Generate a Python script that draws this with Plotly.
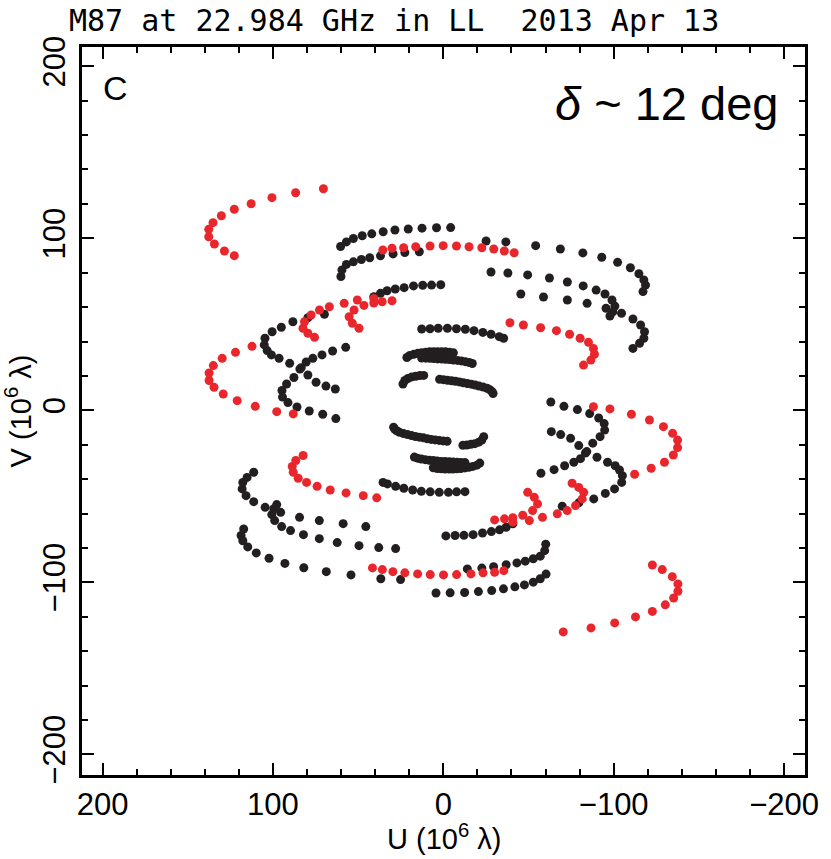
import plotly.graph_objects as go

# u, v in units of 10^6 wavelengths.
# Each track is listed once; it is drawn together with its conjugate (-u, -v).

# red tracks
red1_u = [122.7, 128.5, 134.4, 137.7, 137.7, 135.2, 130.3, 122.7, 112.8, 100.6, 86.7, 70.4]
red1_v = [89.9, 92.6, 96.7, 100.9, 105.2, 109.1, 113.1, 116.9, 120.1, 123.6, 126.5, 128.8]
red2_u = [88.1, 97.8, 110.4, 121.0, 129.2, 134.6, 137.5, 137.5, 135.0, 129.8, 122.0, 112.3]
red2_v = [-2.1, -0.8, 2.3, 5.6, 9.5, 13.4, 17.3, 21.7, 26.0, 30.2, 33.7, 37.2]
red3_u = [35.5, 30.1, 23.3, 16.2, 7.8, 0.1, -7.7, -15.1, -22.6, -29.6, -35.8, -41.6]
red3_v = [93.2, 94.2, 94.5, 95.1, 95.5, 95.7, 95.5, 95.1, 94.5, 93.8, 92.6, 91.6]
red4_u = [-39.1, -47.0, -57.1, -66.4, -74.1, -80.3, -85.2, -88.1, -88.7, -86.6, -82.3]
red4_v = [50.9, 49.6, 48.0, 46.3, 44.2, 41.9, 39.5, 36.0, 32.6, 29.2, 26.3]
red5_u = [75.6, 79.5, 82.4, 81.5, 77.6, 72.7, 66.9, 58.2, 50.5, 40.8]
red5_v = [42.4, 44.8, 47.7, 51.5, 55.4, 58.3, 60.2, 62.2, 64.1, 65.0]
red6_u = [49.5, 53.4, 55.3, 52.4, 46.6, 40.8, 35.9, 30.1]
red6_v = [47.7, 50.6, 54.4, 58.3, 61.0, 62.4, 63.1, 63.7]

# black tracks
blk1_u = [60.3, 56.9, 52.8, 47.6, 42.0, 35.3, 28.4, 20.6, 12.5, 4.0, -4.3]
blk1_v = [95.2, 97.9, 99.9, 101.5, 102.6, 103.8, 104.8, 105.4, 105.9, 106.1, 106.2]
blk2_u = [60.1, 59.5, 56.9, 52.8, 48.1, 43.2, 36.9, 29.5, 22.6, 14.1]
blk2_v = [77.8, 81.6, 84.8, 86.3, 87.7, 88.7, 89.8, 90.9, 91.7, 92.2]
blk3_u = [40.8, 36.9, 33.0, 28.2, 23.0, 17.5, 12.1, 6.9, 1.5]
blk3_v = [66.0, 68.0, 69.5, 70.5, 71.3, 72.3, 72.7, 72.8, 73.0]
blk4_u = [12.7, 7.8, 3.0, -2.4, -7.7, -12.9, -18.0, -23.2, -28.0, -32.8, -35.4]
blk4_v = [47.3, 47.4, 47.7, 47.7, 47.4, 47.1, 46.3, 45.3, 44.2, 42.8, 41.9]
blk5_u = [-25.1, -36.7, -54.2, -68.7, -81.9, -93.0, -102.3, -109.8, -114.8, -117.7, -118.7, -117.2]
blk5_v = [98.4, 97.9, 95.7, 93.8, 91.5, 89.0, 86.0, 82.9, 79.4, 75.8, 72.8, 69.0]
blk6_u = [-28.0, -37.9, -49.5, -62.3, -72.8, -82.1, -89.7, -94.9, -99.0, -100.7, -99.5, -97.8]
blk6_v = [80.4, 79.8, 78.7, 76.9, 74.6, 72.3, 69.9, 67.6, 64.1, 60.6, 57.2, 54.8]
blk7_u = [-45.5, -58.8, -72.8, -84.4, -95.5, -104.6, -111.3, -115.8, -118.1, -117.7, -115.2, -111.3]
blk7_v = [67.6, 65.9, 64.1, 62.2, 59.3, 56.4, 53.1, 49.6, 45.7, 41.9, 39.0, 36.0]
blk8_u = [69.8, 79.5, 88.3, 95.1, 100.5, 104.7, 105.1, 103.4, 100.9, 96.4, 90.2, 83.4, 79.5, 74.7, 68.9, 63.4]
blk8_v = [55.8, 53.8, 51.5, 48.3, 45.7, 41.9, 38.0, 34.7, 32.2, 30.2, 27.3, 24.8, 20.5, 16.3, 14.1, 12.4]
blk9_u = [57.3, 65.0, 71.2, 76.6, 80.5, 84.2, 87.7, 92.0, 94.7, 94.4, 91.2, 85.9, 78.7, 70.8, 63.1]
blk9_v = [36.6, 34.5, 32.2, 30.2, 28.1, 24.0, 19.1, 15.3, 11.5, 7.7, 4.5, 1.9, -0.4, -2.3, -4.8]
blk10_u = [21.4, 19.7, 17.3, 15.0, 12.7, 10.3, 8.0, 5.7, 3.4, 1.0, -1.3, -3.6, -5.9]
blk10_v = [30.7, 31.9, 32.6, 33.1, 33.5, 33.8, 34.0, 34.1, 34.1, 34.1, 34.0, 33.8, 33.4]
blk11_u = [12.7, 10.3, 8.0, 5.7, 3.4, 1.0, -1.3, -3.6, -5.9, -8.3, -10.6, -12.9, -15.2, -17.0]
blk11_v = [30.4, 30.3, 30.2, 30.1, 29.9, 29.8, 29.7, 29.5, 29.2, 29.0, 28.7, 28.3, 27.8, 27.2]
blk12_u = [23.7, 22.6, 20.8, 18.5, 16.2, 13.8, 11.5]
blk12_v = [15.3, 17.3, 18.5, 19.4, 19.8, 20.2, 20.3]
blk13_u = [2.2, -0.1, -2.4, -4.8, -7.1, -9.4, -11.7, -14.1, -16.4, -18.7, -21.0, -23.4, -25.7, -27.4, -28.6, -29.2]
blk13_v = [18.0, 17.8, 17.5, 17.2, 16.9, 16.5, 16.0, 15.6, 15.2, 14.7, 14.1, 13.5, 12.8, 11.9, 10.9, 9.8]

red_tracks = [(red1_u, red1_v), (red2_u, red2_v), (red3_u, red3_v),
              (red4_u, red4_v), (red5_u, red5_v), (red6_u, red6_v)]
black_tracks = [(blk1_u, blk1_v), (blk2_u, blk2_v), (blk3_u, blk3_v), (blk4_u, blk4_v),
                (blk5_u, blk5_v), (blk6_u, blk6_v), (blk7_u, blk7_v), (blk8_u, blk8_v),
                (blk9_u, blk9_v), (blk10_u, blk10_v), (blk11_u, blk11_v),
                (blk12_u, blk12_v), (blk13_u, blk13_v)]

BLACK = "#231f20"
RED = "#e8262b"
SANS = "Liberation Sans, Arial, sans-serif"


def with_conjugate(tracks):
    us, vs = [], []
    for u, v in tracks:
        us += u + [None] + [-x for x in u] + [None]
        vs += v + [None] + [-y for y in v] + [None]
    return us, vs


fig = go.Figure()
for tracks, color in [(black_tracks, BLACK), (red_tracks, RED)]:
    us, vs = with_conjugate(tracks)
    fig.add_trace(go.Scatter(x=us, y=vs, mode="markers",
                             marker=dict(size=9, color=color, line=dict(width=0)),
                             showlegend=False, hoverinfo="skip"))

axis_common = dict(
    tickvals=[-200, -100, 0, 100, 200],
    ticks="inside", ticklen=12, tickwidth=2, tickcolor="black",
    showline=True, linewidth=3, linecolor="black", mirror="allticks",
    showgrid=False, zeroline=False,
    tickfont=dict(family=SANS, size=31, color="black"),
    minor=dict(dtick=20, tick0=0, ticks="inside", ticklen=6, tickwidth=2,
               tickcolor="black", showgrid=False),
)

fig.update_layout(
    width=831, height=859,
    margin=dict(l=82, r=20, t=47, b=84),
    paper_bgcolor="white", plot_bgcolor="white",
    xaxis=dict(range=[212.1, -212.3], **axis_common),
    yaxis=dict(range=[-212.0, 211.2], tickangle=-90, ticklabelstandoff=2, **axis_common),
    annotations=[
        dict(text="M87 at 22.984 GHz in LL  2013 Apr 13", x=0.431, y=1.037,
             xref="paper", yref="paper", showarrow=False, xanchor="center", yanchor="middle",
             font=dict(family="DejaVu Sans Mono, monospace", size=30, color="black")),
        dict(text="U (10<sup>6</sup> λ)", x=0.5, y=-0.085, xref="paper", yref="paper",
             showarrow=False, xanchor="center", yanchor="middle",
             font=dict(family=SANS, size=29, color="black")),
        dict(text="V (10<sup>6</sup> λ)", x=-0.088, y=0.5, xref="paper", yref="paper",
             showarrow=False, textangle=-90, xanchor="center", yanchor="middle",
             font=dict(family=SANS, size=29, color="black")),
        dict(text="C", x=0.047, y=0.944, xref="paper", yref="paper",
             showarrow=False, xanchor="center", yanchor="middle",
             font=dict(family=SANS, size=34, color="black")),
        dict(text="<i>δ</i> ~ 12 deg", x=0.966, y=0.922, xref="paper", yref="paper",
             showarrow=False, xanchor="right", yanchor="middle",
             font=dict(family=SANS, size=47, color="black")),
    ],
)

# drop the browser's default page margin so the figure sits at the window corner
fig.write_html("out.html", config={"displayModeBar": False},
               post_script="document.body.style.margin = '0';")
